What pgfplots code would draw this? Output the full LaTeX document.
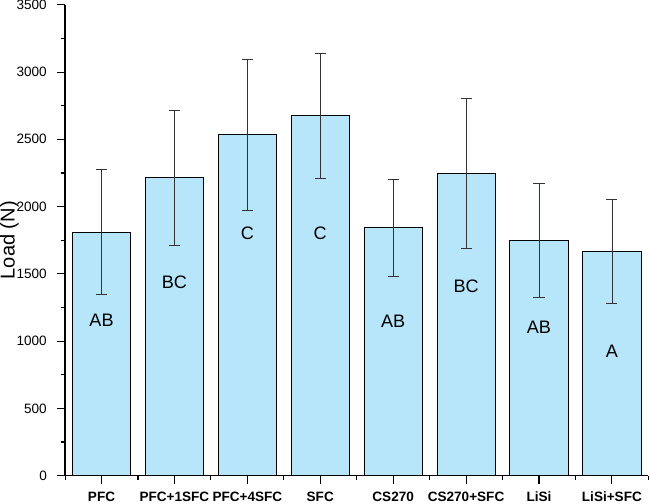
\documentclass[border=0pt]{standalone}
\usepackage{pgfplots}
\pgfplotsset{compat=1.18}
\usepackage{fontspec}
\setmainfont{Liberation Sans}
\definecolor{barfill}{RGB}{183,230,250}
\newcommand{\tlfont}{\fontsize{13.5}{15}\selectfont}
\begin{document}
\begin{tikzpicture}
\begin{axis}[
  width=581pt, height=469pt, scale only axis,
  xmin=-0.5, xmax=7.5, ymin=0, ymax=3500,
  axis x line*=bottom, axis y line*=left,
  axis line style={black, line width=1.3pt},
  xtick={0,...,7},
  xticklabels={PFC,PFC+1SFC,PFC+4SFC,SFC,CS270,CS270+SFC,LiSi,LiSi+SFC},
  minor xtick={-0.5,0.5,...,7.5},
  ytick={0,500,...,3500},
  yticklabels={{\tlfont 0},{\tlfont 500},{\tlfont 1000},{\tlfont 1500},{\tlfont 2000},{\tlfont 2500},{\tlfont 3000},{\tlfont 3500}},
  minor ytick={250,750,...,3250},
  tick align=outside,
  major tick length=8pt, minor tick length=4.5pt,
  tick style={black, line width=1.1pt},
  tick label style={font=\tlfont},
  xticklabel style={font=\bfseries\tlfont, inner ysep=1.5pt, yshift=-6.5pt},
  yticklabel style={font=\tlfont, anchor=east, inner ysep=0pt, inner xsep=0pt, xshift=-10pt},
  ylabel={Load (N)},
  ylabel style={font=\fontsize{20}{22}\selectfont, at={(axis description cs:-0.1119,0.5)}, anchor=north, inner sep=0pt},
]
\addplot[ybar, bar width=0.8, fill=barfill, draw=black, line width=0.8pt,
  error bars/.cd, y dir=both, y explicit,
  error bar style={line width=0.7pt, draw=black!80},
  error mark options={rotate=90, mark size=5.5pt, line width=0.7pt, draw=black!80}]
coordinates {
  (0,1811) += (0,463) -= (0,465)
  (1,2216) += (0,500) -= (0,501)
  (2,2537) += (0,560) -= (0,562)
  (3,2675) += (0,462) -= (0,463)
  (4,1843) += (0,361) -= (0,363)
  (5,2244) += (0,560) -= (0,555)
  (6,1749) += (0,420) -= (0,425)
  (7,1667) += (0,390) -= (0,388)
};
\node[font=\fontsize{18}{20}\selectfont] at (axis cs:0,1154) {AB};
\node[font=\fontsize{18}{20}\selectfont] at (axis cs:1,1437) {BC};
\node[font=\fontsize{18}{20}\selectfont] at (axis cs:2,1803) {C};
\node[font=\fontsize{18}{20}\selectfont] at (axis cs:3,1803) {C};
\node[font=\fontsize{18}{20}\selectfont] at (axis cs:4,1149) {AB};
\node[font=\fontsize{18}{20}\selectfont] at (axis cs:5,1408) {BC};
\node[font=\fontsize{18}{20}\selectfont] at (axis cs:6,1100) {AB};
\node[font=\fontsize{18}{20}\selectfont] at (axis cs:7,925) {A};
\end{axis}
\end{tikzpicture}
\end{document}
